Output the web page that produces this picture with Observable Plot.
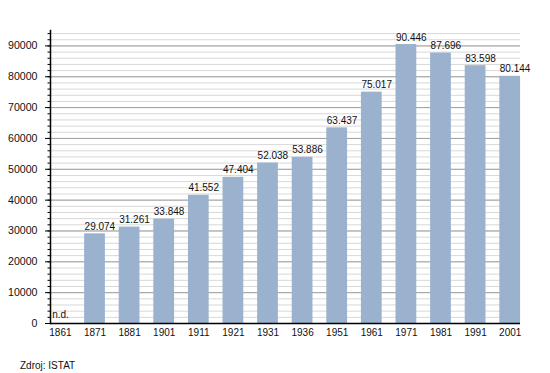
<!DOCTYPE html>
<html>
<head>
<meta charset="utf-8">
<script src="https://cdn.jsdelivr.net/npm/d3@7"></script>
<script src="https://cdn.jsdelivr.net/npm/@observablehq/plot@0.6"></script>
<style>
  html, body { margin: 0; padding: 0; background: #fff; }
  body { width: 550px; height: 373px; overflow: hidden; font-family: "Liberation Sans", Arial, sans-serif; }
  #caption { font-size: 10px; color: #111; margin: 15px 0 0 20px; line-height: 12px; }
</style>
</head>
<body>
<div id="chart"></div>
<div id="caption">Zdroj: ISTAT</div>
<script>
const years = ["1861","1871","1881","1901","1911","1921","1931","1936","1951","1961","1971","1981","1991","2001"];
const population = [null, 29074, 31261, 33848, 41552, 47404, 52038, 53886, 63437, 75017, 90446, 87696, 83598, 80144];
const majorTicks = [0, 10000, 20000, 30000, 40000, 50000, 60000, 70000, 80000, 90000];
const noDataLabel = "n.d.";

const data = years.map((y, i) => ({year: y, value: population[i]}));
const known = data.filter(d => d.value != null);
const missing = data.filter(d => d.value == null);

const loc = d3.formatLocale({decimal: ",", thousands: ".", grouping: [3], currency: ["", ""]});
const fmt = loc.format(",d");

const chart = Plot.plot({
  width: 550,
  height: 345,
  marginLeft: 50,
  marginRight: 30,
  marginTop: 30,
  marginBottom: 22,
  style: {fontFamily: "Liberation Sans, Arial, sans-serif", fontSize: "10px", color: "#111", background: "#fff"},
  x: {type: "band", domain: years, range: [42.6, 527], paddingInner: 0.4, paddingOuter: 0.2, round: false, label: null},
  y: {domain: [0, 95000], label: null},
  marks: [
    Plot.gridY({interval: 2000, stroke: "#d8d8d8", strokeOpacity: 1, strokeWidth: 1}),
    Plot.gridY(majorTicks.slice(1), {stroke: "#a0a0a0", strokeOpacity: 1, strokeWidth: 1}),
    Plot.barY(known, {x: "year", y: "value", fill: "#9ab2ce"}),
    Plot.text(known, {x: "year", y: "value", text: d => fmt(d.value), textAnchor: "start", lineAnchor: "bottom", dx: -10.4, dy: -4, fontSize: 10, fill: "#111"}),
    Plot.text(missing, {x: "year", y: 0, text: () => noDataLabel, textAnchor: "start", lineAnchor: "bottom", dx: -8.2, dy: -5.4, fontSize: 10, fill: "#111"}),
    Plot.axisY({interval: 2000, tickSize: 2.5, tickFormat: null, text: null, stroke: "#000"}),
    Plot.axisY(majorTicks, {tickSize: 5, tickPadding: 8, tickFormat: d => String(d), fontSize: 10.6, stroke: "#000"}),
    Plot.axisX({tickSize: 0, tickPadding: 5, fontSize: 10}),
    Plot.ruleY([0], {stroke: "#000", strokeWidth: 1.5}),
    Plot.frame({anchor: "left", stroke: "#000", strokeWidth: 1.5})
  ]
});
document.getElementById("chart").appendChild(chart);
</script>
</body>
</html>
